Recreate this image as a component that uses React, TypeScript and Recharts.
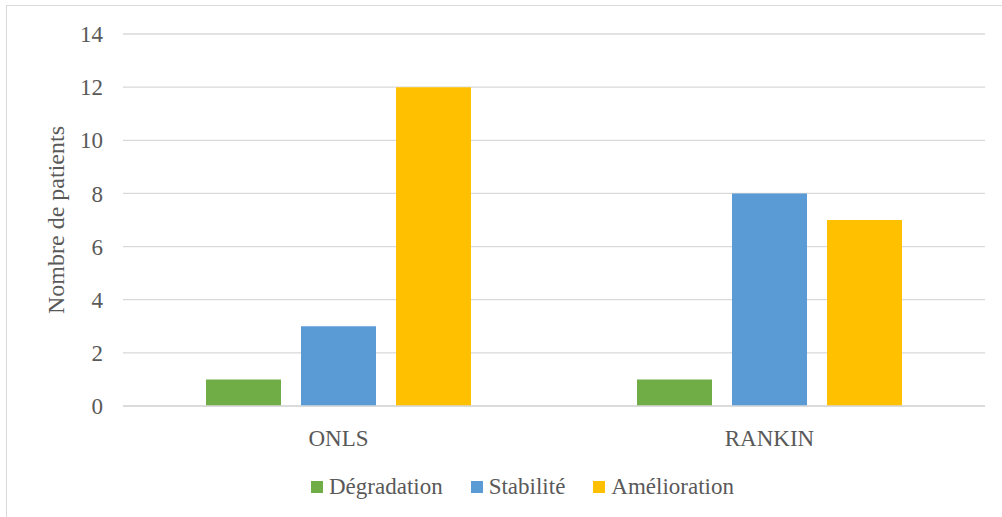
import React from 'react';
import { BarChart, Bar, XAxis, YAxis, CartesianGrid, Legend } from 'recharts';

const categories = ['ONLS', 'RANKIN'];
const degradation = [1, 1];
const stabilite = [3, 8];
const amelioration = [12, 7];
const yTicks = [0, 2, 4, 6, 8, 10, 12, 14];

const seriesInfo = [
  { key: 'Dégradation', color: '#70AD47', values: degradation },
  { key: 'Stabilité', color: '#5B9BD5', values: stabilite },
  { key: 'Amélioration', color: '#FFC000', values: amelioration },
];

const data = categories.map((c, i) => {
  const row: any = { name: c };
  seriesInfo.forEach((s) => (row[s.key] = s.values[i]));
  return row;
});

const TEXT = '#595959';
const FONT = '"Liberation Serif"';

const LegendContent = () => (
  <div style={{ display: 'flex', justifyContent: 'center', alignItems: 'center', height: 30, fontSize: 23, color: TEXT, fontFamily: FONT }}>
    {seriesInfo.map((s, i) => (
      <div key={s.key} style={{ display: 'flex', alignItems: 'center', marginLeft: i === 0 ? 0 : 28 }}>
        <span style={{ display: 'inline-block', width: 12, height: 12, background: s.color, marginRight: 6 }} />
        <span>{s.key}</span>
      </div>
    ))}
  </div>
);

const YLabel = (props: any) => {
  const vb = props.viewBox || {};
  const x = vb.x - 4;
  const y = vb.y + vb.height / 2;
  return (
    <text x={x} y={y} transform={`rotate(-90 ${x} ${y})`} textAnchor="middle" dominantBaseline="central" fontSize={24} fill={TEXT} fontFamily="Liberation Serif">
      Nombre de patients
    </text>
  );
};

export default function App() {
  return (
    <div style={{ position: 'absolute', left: 0, top: 0, width: 1002, height: 517, background: '#fff', fontFamily: FONT }}>
      <div style={{ position: 'absolute', left: 6, top: 5, width: 1000, height: 520, border: '1px solid #D9D9D9', boxSizing: 'border-box' }} />
      <BarChart
        width={1002}
        height={517}
        data={data}
        margin={{ top: 34, right: 17, bottom: 41, left: 60 }}
        barSize={75}
        barGap={20}
      >
        <CartesianGrid vertical={false} stroke="#D9D9D9" strokeWidth={1.3} />
        <XAxis
          dataKey="name"
          height={40}
          tickSize={0}
          tickMargin={24}
          axisLine={{ stroke: '#D9D9D9', strokeWidth: 1.3 }}
          tick={{ fill: TEXT, fontSize: 23, fontFamily: 'Liberation Serif' }}
        />
        <YAxis
          width={63}
          domain={[0, 14]}
          ticks={yTicks}
          tickSize={0}
          tickMargin={20}
          axisLine={false}
          tick={{ fill: TEXT, fontSize: 23, fontFamily: 'Liberation Serif' }}
          label={<YLabel />}
        />
        <Legend verticalAlign="bottom" content={<LegendContent />} wrapperStyle={{ bottom: 15 }} />
        {seriesInfo.map((s) => (
          <Bar key={s.key} dataKey={s.key} fill={s.color} isAnimationActive={false} />
        ))}
      </BarChart>
    </div>
  );
}
